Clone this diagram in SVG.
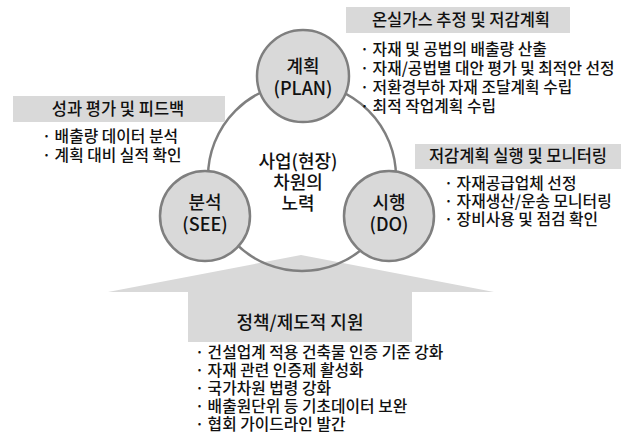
<svg xmlns="http://www.w3.org/2000/svg" width="631" height="434" viewBox="0 0 631 434">
<style>
text{font-family:"Noto Sans CJK KR","Noto Sans",sans-serif;fill:#111;font-weight:500}
.t{font-size:16.5px;text-anchor:middle}
.b{font-size:15.8px}
.c{font-size:18px;text-anchor:middle}
.box{fill:#d9d9d9}
.node{fill:#d9d9d9;stroke:#7f7f7f;stroke-width:2.5}
</style>
<rect width="631" height="434" fill="#fff"/>
<g id="support-arrow">
<polygon class="box" points="301,255 494,292 412,292 412,342 188,342 188,292 108,292"/>
<text class="c" x="300" y="329">정책/제도적 지원</text>
</g>
<g id="connectors">
<circle cx="302" cy="177" r="94" fill="none" stroke="#7f7f7f" stroke-width="2.5"/>
</g>
<g id="center">
<text class="c" x="298" y="168">사업(현장)</text>
<text class="c" x="298" y="189">차원의</text>
<text class="c" x="298" y="210">노력</text>
</g>
<g id="plan">
<circle class="node" cx="303" cy="76" r="46"/>
<text class="c" x="303" y="73">계획</text>
<text class="c" x="303" y="95">(PLAN)</text>
</g>
<g id="see">
<circle class="node" cx="205" cy="216" r="45"/>
<text class="c" x="205" y="209">분석</text>
<text class="c" x="205" y="231">(SEE)</text>
</g>
<g id="do">
<circle class="node" cx="389" cy="216" r="45"/>
<text class="c" x="389" y="209">시행</text>
<text class="c" x="389" y="231">(DO)</text>
</g>
<g id="plan-detail">
<rect class="box" x="346" y="7" width="224" height="26"/>
<text class="t" x="461" y="26">온실가스 추정 및 저감계획</text>
<text class="b" x="360" y="55">· 자재 및 공법의 배출량 산출</text>
<text class="b" x="360" y="74">· 자재/공법별 대안 평가 및 최적안 선정</text>
<text class="b" x="360" y="93">· 저환경부하 자재 조달계획 수립</text>
<text class="b" x="360" y="112">· 최적 작업계획 수립</text>
</g>
<g id="see-detail">
<rect class="box" x="13" y="96" width="212" height="26"/>
<text class="t" x="118" y="115">성과 평가 및 피드백</text>
<text class="b" x="42" y="142">· 배출량 데이터 분석</text>
<text class="b" x="42" y="161">· 계획 대비 실적 확인</text>
</g>
<g id="do-detail">
<rect class="box" x="415" y="144" width="206" height="25"/>
<text class="t" x="518" y="162">저감계획 실행 및 모니터링</text>
<text class="b" x="444" y="189">· 자재공급업체 선정</text>
<text class="b" x="444" y="207">· 자재생산/운송 모니터링</text>
<text class="b" x="444" y="225">· 장비사용 및 점검 확인</text>
</g>
<g id="support-detail">
<text class="b" x="195" y="358">· 건설업계 적용 건축물 인증 기준 강화</text>
<text class="b" x="195" y="376">· 자재 관련 인증제 활성화</text>
<text class="b" x="195" y="394">· 국가차원 법령 강화</text>
<text class="b" x="195" y="412">· 배출원단위 등 기초데이터 보완</text>
<text class="b" x="195" y="430">· 협회 가이드라인 발간</text>
</g>
</svg>
